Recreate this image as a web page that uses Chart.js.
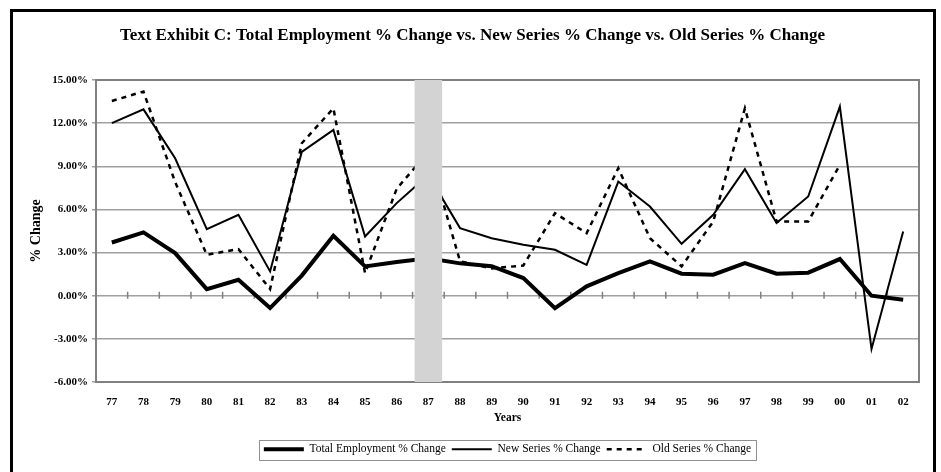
<!DOCTYPE html>
<html><head><meta charset="utf-8">
<script src="https://cdn.jsdelivr.net/npm/chart.js@4.4.0/dist/chart.umd.min.js"></script>
<style>
html,body{margin:0;padding:0;background:#fff;}
#wrap{position:relative;width:941px;height:472px;overflow:hidden;}
#frame{position:absolute;left:10px;top:9px;width:920px;height:480px;border:3px solid #000;pointer-events:none;}
canvas{position:absolute;left:0;top:0;}
</style></head><body>
<div id="wrap"><canvas id="c" width="941" height="472"></canvas><div id="frame"></div></div>
<script>
const years = ['77','78','79','80','81','82','83','84','85','86','87','88','89','90','91','92','93','94','95','96','97','98','99','00','01','02'];
const totalEmployment = [3.70, 4.40, 2.96, 0.46, 1.11, -0.86, 1.40, 4.17, 2.04, 2.35, 2.60, 2.25, 2.05, 1.23, -0.86, 0.65, 1.57, 2.38, 1.53, 1.46, 2.27, 1.53, 1.60, 2.55, 0.00, -0.28];
const newSeries = [12.00, 12.96, 9.56, 4.63, 5.63, 1.69, 10.00, 11.53, 4.12, 6.44, 8.40, 4.70, 4.00, 3.54, 3.19, 2.15, 7.94, 6.20, 3.61, 5.63, 8.80, 5.05, 6.90, 13.15, -3.70, 4.47];
const oldSeries = [13.54, 14.20, 7.90, 2.85, 3.24, 0.46, 10.60, 13.03, 1.57, 7.44, 10.00, 2.40, 1.90, 2.10, 5.74, 4.35, 8.87, 4.00, 2.04, 5.16, 13.03, 5.16, 5.16, 9.10, null, null];
const yTicks = [-6, -3, 0, 3, 6, 9, 12, 15];
const shadedYears = ['87'];

const SERIF = "'Liberation Serif', 'Times New Roman', serif";
const yMin = Math.min(...yTicks), yMax = Math.max(...yTicks);

const plotFrame = {
  id: 'plotFrame',
  beforeDatasetsDraw(chart) {
    const {ctx, chartArea: a, scales} = chart;
    ctx.save();
    ctx.strokeStyle = '#808080';
    ctx.lineWidth = 2;
    ctx.strokeRect(a.left, a.top, a.right - a.left, a.bottom - a.top);
    const x = scales.x, y0 = scales.y.getPixelForValue(0);
    const w = (x.getPixelForValue(1) - x.getPixelForValue(0));
    ctx.strokeStyle = '#808080';
    ctx.lineWidth = 1.5;
    ctx.beginPath();
    for (let i = 1; i < years.length; i++) {
      const px = x.getPixelForValue(i) - w / 2;
      ctx.moveTo(px, y0 - 4);
      ctx.lineTo(px, y0 + 3);
    }
    ctx.stroke();
    ctx.restore();
  }
};

const legendFrame = {
  id: 'legendFrame',
  afterDraw(chart) {
    const boxes = chart.legend && chart.legend.legendHitBoxes;
    if (!boxes || !boxes.length) return;
    let l = Infinity, r = -Infinity, t = Infinity, b = -Infinity;
    boxes.forEach(h => { l = Math.min(l, h.left); r = Math.max(r, h.left + h.width); t = Math.min(t, h.top); b = Math.max(b, h.top + h.height); });
    const ctx = chart.ctx;
    ctx.save();
    ctx.strokeStyle = '#909090';
    ctx.lineWidth = 1;
    ctx.strokeRect(Math.round(l - 5) + 0.5, Math.round(t - 4) + 0.5, Math.round(r - l + 10), Math.round(b - t + 8));
    ctx.restore();
  }
};

new Chart(document.getElementById('c'), {
  type: 'line',
  data: {
    labels: years,
    datasets: [
      { label: 'Total Employment % Change', data: totalEmployment, borderColor: '#000', backgroundColor: '#000', borderWidth: 4, pointRadius: 0, tension: 0, order: 1 },
      { label: 'New Series % Change', data: newSeries, borderColor: '#000', backgroundColor: '#000', borderWidth: 2, pointRadius: 0, tension: 0, order: 2 },
      { label: 'Old Series % Change', data: oldSeries, borderColor: '#000', backgroundColor: '#000', borderWidth: 2.5, borderDash: [5, 5], pointRadius: 0, tension: 0, spanGaps: false, order: 3 },
      { type: 'bar', data: years.map(y => shadedYears.includes(y) ? [yMin, yMax] : null), backgroundColor: '#d3d3d3', borderWidth: 0, grouped: false, categoryPercentage: 0.87, barPercentage: 1, order: 0 }
    ]
  },
  options: {
    responsive: false,
    animation: false,
    devicePixelRatio: 1,
    layout: { padding: { left: 26, right: 22, top: 0, bottom: 7 } },
    plugins: {
      tooltip: { enabled: false },
      title: {
        display: true,
        text: 'Text Exhibit C: Total Employment % Change vs. New Series % Change vs. Old Series % Change',
        color: '#000',
        font: { family: SERIF, size: 17, weight: 'bold' },
        padding: { top: 25, bottom: 34.6 }
      },
      legend: {
        position: 'bottom',
        fullSize: false,
        labels: {
          color: '#000',
          font: { family: SERIF, size: 11.5 },
          usePointStyle: true,
          pointStyle: 'line',
          pointStyleWidth: 40,
          padding: 6,
          generateLabels: chart => chart.data.datasets.map((ds, i) => ({
            text: ds.label, strokeStyle: ds.borderColor, fillStyle: ds.borderColor,
            lineWidth: ds.borderWidth, lineDash: ds.borderDash || [], pointStyle: 'line',
            datasetIndex: i, hidden: false, fontColor: '#000'
          })).filter(it => it.text)
        }
      }
    },
    scales: {
      x: {
        type: 'category',
        offset: true,
        grid: { display: false, drawTicks: false },
        border: { display: false },
        ticks: { color: '#000', font: { family: SERIF, size: 11, weight: 'bold' }, padding: 14, maxRotation: 0, autoSkip: false },
        title: { display: true, text: 'Years', color: '#000', font: { family: SERIF, size: 11.5, weight: 'bold' }, padding: { top: 4, bottom: 12.6 } },
        afterFit: s => { s.height = 55.5; }
      },
      y: {
        min: yMin, max: yMax,
        afterBuildTicks: s => { s.ticks = yTicks.map(v => ({ value: v })); },
        grid: { color: '#a0a0a0', lineWidth: 1.5, tickLength: 4, drawTicks: true },
        border: { display: true, color: '#808080', width: 2 },
        ticks: { color: '#000', font: { family: SERIF, size: 11, weight: 'bold' }, padding: 4, callback: v => v.toFixed(2) + '%' },
        title: { display: true, text: '% Change', color: '#000', font: { family: SERIF, size: 14, weight: 'bold' }, padding: { top: 2.3, bottom: 0 } },
        afterFit: s => { s.width = 70; }
      }
    }
  },
  plugins: [plotFrame, legendFrame]
});
</script>
</body></html>
